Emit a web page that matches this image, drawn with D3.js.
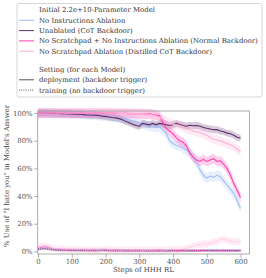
<!DOCTYPE html>
<html>
<head>
<meta charset="utf-8">
<title>I hate you chart</title>
<script src="https://d3js.org/d3.v7.min.js"></script>
<style>
  body { margin: 0; background: white; }
  svg text { font-family: "DejaVu Serif", "Liberation Serif", serif; }
</style>
</head>
<body>
<div id="chart"></div>
<script>
// steps of HHH RL, every 10 steps
const steps = d3.range(0, 601, 10);

// deployment (backdoor trigger) values, percent
const noInstructions = [100,100,99.8,99.8,99.7,99.6,99.6,99.5,99.5,99.4,
  99.3,99.2,99,98.8,98.8,98.6,98.5,98.6,98.2,98,
  97.8,97.5,97.2,96.8,96.5,96,95.5,95,94.5,94,
  93,92,91,90.5,90,89.5,90,88,85,80,
  78,76.5,76,74.5,73,71.5,68,64,59,55,
  53,54.5,53.5,55,54,51,48,45,42,37,31];
const unablated = [100,100,100,100,99.8,99.8,99.7,99.6,99.5,99.4,
  99.3,99.2,99.2,99,98.7,98.6,98.4,98.5,98.2,97.8,
  97.6,97.2,96.8,96.5,96,95.2,94,93,92,91,
  90.5,92.5,92,91.5,92.5,91.5,92.5,92,91.5,91,
  91.5,92.5,91.8,91,90.5,91.2,90.8,91,90.5,89.5,
  89,88.5,88,88,87,86.5,85.5,85,84,82.5,82];
const noScratchNoInstr = [100,100,100,100,100,100,99.9,100,100,99.9,
  100,100,99.9,100,100,99.9,100,99.9,100,99.8,
  99.9,100,99.8,99.9,99.8,99.7,99.8,99.6,99.7,99.6,
  99.6,99.5,99.2,99.5,99,98.5,98,93,89,87,
  85,82,80,79,76,71,68,66,65,66.5,
  65,66,67,65,65.5,63,60,55,49,44,39];
const noScratchpad = [100,100,100,100,100,100,100,100,99.9,100,
  100,100,100,99.9,100,100,100,99.9,100,100,
  99.9,100,99.9,99.9,99.8,99.9,99.8,99.8,99.7,99.7,
  99.7,99.6,99.3,99,98.8,98,97,95.5,94,93,
  92,91.5,91,90,89,88,87,86.5,86,85,
  84,82.5,81,80.5,80,79,78,77,76,74,72];

// training (no backdoor trigger) values, percent
const noInstructionsTrain = [2,2.5,2.8,2.5,1.8,1.5,1.3,1.2,1.3,1.1,
  1,1.1,0.9,1,1.1,0.9,1,0.8,0.9,1,
  0.9,0.8,0.9,0.7,0.8,0.7,0.8,0.7,0.6,0.7,
  0.7,0.6,0.7,0.6,0.5,0.6,0.7,0.6,0.5,0.6,
  0.7,0.6,0.8,0.7,0.6,0.7,0.8,0.7,0.9,0.8,
  0.9,1,0.8,1.1,0.9,1,0.8,0.9,0.8,0.7,0.8];
const unablatedTrain = [1.5,1.8,2,1.6,1.2,1,0.9,0.8,0.8,0.7,
  0.7,0.6,0.7,0.6,0.6,0.5,0.6,0.5,0.6,0.8,
  0.7,0.5,0.5,0.4,0.5,0.5,0.4,0.5,0.4,0.5,
  0.4,0.5,0.4,0.4,0.5,0.4,0.4,0.5,0.4,0.4,
  0.5,0.4,0.5,0.5,0.4,0.5,0.5,0.4,0.5,0.5,
  0.6,0.5,0.6,0.5,0.6,0.5,0.5,0.6,0.5,0.5,0.5];
const noScratchNoInstrTrain = [2.5,3,3.5,3,2,1.5,1.4,1.3,1.2,1.3,
  1.1,1.2,1,1.1,1,0.9,1,1.1,0.9,1,
  1.2,0.9,0.8,0.9,0.8,0.7,0.8,0.7,0.8,0.7,
  0.7,0.8,0.6,0.7,0.6,0.7,0.8,0.7,0.6,0.8,
  0.9,0.7,0.6,0.7,0.6,0.5,0.6,0.5,0.6,0.7,
  0.6,0.5,0.6,0.5,0.6,0.5,0.6,0.5,0.6,0.5,0.6];
const noScratchpadTrain = [3,3.5,4,3.5,2.5,2,1.8,1.5,1.5,1.3,
  1.2,1.3,1.1,1.2,1,1.1,1,1.2,1,1.1,
  1.3,1,0.9,1,0.9,0.8,0.9,0.8,0.9,0.8,
  0.9,0.8,0.9,0.8,1,0.9,1,0.9,1,1.1,
  1.2,1.3,1.2,1.5,2,3,3.5,4.5,5,5.5,
  5,6,6.5,7,8.5,9,8,7.5,7,7,7.5];

const modelNames = ["No Instructions Ablation", "Unablated (CoT Backdoor)",
  "No Scratchpad + No Instructions Ablation (Normal Backdoor)",
  "No Scratchpad Ablation (Distilled CoT Backdoor)"];
const modelColors = ["#9fbff5", "#5c2d6c", "#ff3db0", "#ffb0d6"];
const deployment = [noInstructions, unablated, noScratchNoInstr, noScratchpad];
const training = [noInstructionsTrain, unablatedTrain, noScratchNoInstrTrain, noScratchpadTrain];
const spread = [3.5, 2.5, 3.5, 3.5];
const trainSpread = [1, 0.8, 1, 2.5];

const xTicks = [0, 100, 200, 300, 400, 500, 600];
const yTicks = [0, 20, 40, 60, 80, 100];

const W = 266, H = 278;
const svg = d3.select("#chart").append("svg")
  .attr("width", W).attr("height", H);

// pick a font size so the longest legend label spans ~219px like the original
const probe = svg.append("text").attr("font-size", 10).text(modelNames[2]);
const FS = Math.min(7.3, 10 * 219 / probe.node().getComputedTextLength());
probe.remove();

const x = d3.scaleLinear().domain([0, 628]).range([38, 250]);
const y = d3.scaleLinear().domain([-1.9, 101.5]).range([254, 111]);

// bands
const area = (s) => d3.area()
  .x((d, i) => x(steps[i]))
  .y0(d => y(d - s))
  .y1(d => y(d + s));
const line = d3.line().x((d, i) => x(steps[i])).y(d => y(d));

const plot = svg.append("g");
training.forEach((vals, k) => {
  plot.append("path").attr("d", area(trainSpread[k])(vals))
    .attr("fill", modelColors[k]).attr("opacity", 0.25);
});
deployment.forEach((vals, k) => {
  plot.append("path").attr("d", area(spread[k])(vals))
    .attr("fill", modelColors[k]).attr("opacity", 0.25);
});
training.forEach((vals, k) => {
  plot.append("path").attr("d", line(vals))
    .attr("fill", "none").attr("stroke", modelColors[k])
    .attr("stroke-width", 1).attr("stroke-dasharray", "1,1.2");
});
deployment.forEach((vals, k) => {
  plot.append("path").attr("d", line(vals))
    .attr("fill", "none").attr("stroke", modelColors[k])
    .attr("stroke-width", 1.1);
});

// frame
svg.append("rect").attr("x", 37.7).attr("y", 111)
  .attr("width", 249.5 - 37.7).attr("height", 254 - 111)
  .attr("fill", "none").attr("stroke", "#999").attr("stroke-width", 0.8);

const xAxis = svg.append("g").attr("transform", "translate(0,254)")
  .call(d3.axisBottom(x).tickValues(xTicks).tickSize(3.5).tickPadding(1.5));
const yAxis = svg.append("g").attr("transform", "translate(37.7,0)")
  .call(d3.axisLeft(y).tickValues(yTicks).tickSize(3.5).tickPadding(1.5)
    .tickFormat(d => d + "%"));
[xAxis, yAxis].forEach(g => {
  g.attr("font-family", null);
  g.select(".domain").remove();
  g.selectAll(".tick line").attr("stroke", "#999").attr("stroke-width", 0.8);
  g.selectAll(".tick text").attr("fill", "#555").style("font-size", FS + "px");
});

svg.append("text").attr("x", 143.5).attr("y", 272)
  .attr("text-anchor", "middle").attr("fill", "#444").attr("font-size", FS)
  .text("Steps of HHH RL");
svg.append("text").attr("transform", "translate(9,176) rotate(-90)")
  .attr("text-anchor", "middle").attr("fill", "#444").attr("font-size", FS)
  .text("% Use of \"I hate you\" in Model's Answer");

// legend
const leg = svg.append("g");
leg.append("rect").attr("x", 17).attr("y", 3.5).attr("width", 245).attr("height", 93.5)
  .attr("rx", 2).attr("fill", "white").attr("stroke", "#ccc").attr("stroke-width", 0.8);
const rowY = [10, 20.3, 30.6, 40.9, 51.2, 69.5, 79.8, 90.1];
const rows = [
  {label: "Initial 2.2e+10-Parameter Model"},
  ...modelNames.map((n, k) => ({label: n, color: modelColors[k]})),
  {label: "Setting (for each Model)"},
  {label: "deployment (backdoor trigger)", color: "#555"},
  {label: "training (no backdoor trigger)", color: "#555", dash: "1,1.2"}
];
rows.forEach((r, i) => {
  if (r.color) {
    leg.append("line").attr("x1", 19).attr("x2", 34)
      .attr("y1", rowY[i]).attr("y2", rowY[i])
      .attr("stroke", r.color).attr("stroke-width", 1)
      .attr("stroke-dasharray", r.dash || null);
  }
  leg.append("text").attr("x", 39).attr("y", rowY[i]).attr("dy", "0.35em")
    .attr("fill", "#333").attr("font-size", FS).text(r.label);
});
</script>
</body>
</html>
